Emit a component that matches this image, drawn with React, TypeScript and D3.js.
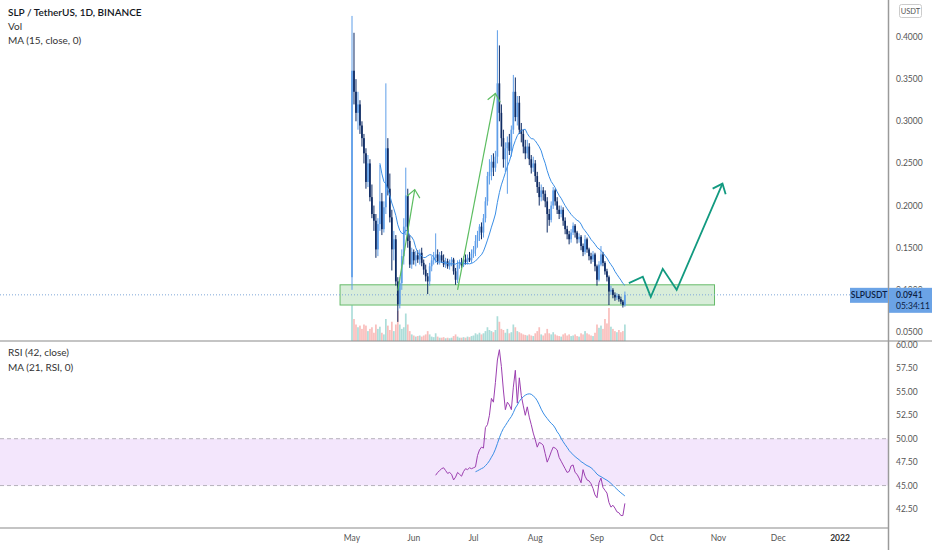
import * as d3 from "d3"

// daily candles, first bar = 2021-05-01
const firstDay = Date.UTC(2021, 4, 1)
const DAY = 86400000

const opens = [
  0.115, 0.36, 0.335, 0.31, 0.32, 0.295, 0.28, 0.262, 0.228, 0.25, 0.21, 0.19, 0.182, 0.148, 0.178, 0.205, 0.172, 0.198, 0.268, 0.22,
  0.186, 0.148, 0.16, 0.11, 0.083, 0.108, 0.14, 0.175, 0.212, 0.158, 0.13, 0.145, 0.135, 0.141, 0.136, 0.144, 0.132, 0.124, 0.116, 0.11,
  0.128, 0.135, 0.138, 0.142, 0.134, 0.141, 0.135, 0.13, 0.134, 0.128, 0.133, 0.136, 0.122, 0.112, 0.13, 0.132, 0.129, 0.136, 0.133, 0.138,
  0.135, 0.143, 0.148, 0.158, 0.165, 0.175, 0.168, 0.185, 0.205, 0.235, 0.24, 0.252, 0.245, 0.258, 0.345, 0.31, 0.28, 0.255, 0.268, 0.275,
  0.265, 0.29, 0.335, 0.305, 0.322, 0.29, 0.285, 0.27, 0.262, 0.27, 0.255, 0.245, 0.25, 0.235, 0.222, 0.21, 0.218, 0.214, 0.205, 0.19,
  0.183, 0.2, 0.218, 0.205, 0.195, 0.19, 0.195, 0.182, 0.172, 0.166, 0.16, 0.168, 0.176, 0.168, 0.16, 0.163, 0.152, 0.145, 0.16, 0.148,
  0.14, 0.136, 0.142, 0.128, 0.112, 0.13, 0.142, 0.132, 0.122, 0.115, 0.098, 0.1, 0.094, 0.091, 0.093, 0.089, 0.086, 0.082,
]
const highs = [
  0.425, 0.405, 0.35, 0.335, 0.325, 0.3, 0.285, 0.268, 0.26, 0.255, 0.225, 0.2, 0.19, 0.185, 0.248, 0.215, 0.205, 0.345, 0.28, 0.238,
  0.195, 0.17, 0.165, 0.115, 0.115, 0.148, 0.185, 0.245, 0.22, 0.165, 0.15, 0.148, 0.146, 0.147, 0.148, 0.15, 0.136, 0.13, 0.12, 0.132,
  0.14, 0.145, 0.167, 0.148, 0.145, 0.146, 0.142, 0.138, 0.137, 0.136, 0.139, 0.138, 0.126, 0.135, 0.136, 0.138, 0.14, 0.142, 0.142, 0.145,
  0.148, 0.152, 0.165, 0.17, 0.178, 0.18, 0.19, 0.21, 0.24, 0.255, 0.26, 0.262, 0.265, 0.408, 0.39, 0.32, 0.29, 0.275, 0.282, 0.285,
  0.295, 0.355, 0.352, 0.33, 0.33, 0.298, 0.29, 0.278, 0.278, 0.274, 0.26, 0.258, 0.254, 0.24, 0.228, 0.225, 0.222, 0.218, 0.21, 0.196,
  0.205, 0.222, 0.22, 0.21, 0.2, 0.2, 0.198, 0.186, 0.176, 0.17, 0.172, 0.18, 0.178, 0.17, 0.167, 0.165, 0.155, 0.165, 0.162, 0.15,
  0.144, 0.146, 0.144, 0.13, 0.134, 0.152, 0.145, 0.134, 0.125, 0.117, 0.105, 0.102, 0.097, 0.096, 0.095, 0.092, 0.088, 0.098,
]
const lows = [
  0.1, 0.32, 0.3, 0.29, 0.285, 0.27, 0.25, 0.22, 0.222, 0.205, 0.185, 0.17, 0.138, 0.14, 0.17, 0.165, 0.168, 0.19, 0.212, 0.18,
  0.123, 0.135, 0.105, 0.062, 0.078, 0.1, 0.13, 0.165, 0.15, 0.126, 0.125, 0.13, 0.128, 0.132, 0.13, 0.128, 0.118, 0.11, 0.095, 0.105,
  0.122, 0.13, 0.132, 0.13, 0.13, 0.132, 0.127, 0.126, 0.125, 0.124, 0.128, 0.118, 0.106, 0.108, 0.125, 0.126, 0.127, 0.13, 0.13, 0.133,
  0.132, 0.138, 0.14, 0.15, 0.158, 0.16, 0.162, 0.18, 0.2, 0.225, 0.23, 0.235, 0.24, 0.25, 0.3, 0.27, 0.245, 0.24, 0.214, 0.26,
  0.258, 0.285, 0.3, 0.295, 0.285, 0.275, 0.262, 0.255, 0.256, 0.248, 0.238, 0.24, 0.228, 0.215, 0.2, 0.205, 0.206, 0.198, 0.168, 0.176,
  0.18, 0.196, 0.2, 0.19, 0.184, 0.186, 0.176, 0.166, 0.16, 0.154, 0.156, 0.165, 0.162, 0.155, 0.156, 0.147, 0.14, 0.142, 0.144, 0.135,
  0.131, 0.133, 0.122, 0.105, 0.11, 0.128, 0.128, 0.118, 0.11, 0.082, 0.094, 0.09, 0.087, 0.088, 0.086, 0.083, 0.079, 0.08,
]
const closes = [
  0.36, 0.335, 0.31, 0.32, 0.295, 0.28, 0.262, 0.228, 0.25, 0.21, 0.19, 0.182, 0.148, 0.178, 0.205, 0.172, 0.198, 0.268, 0.22, 0.186,
  0.148, 0.16, 0.11, 0.083, 0.108, 0.14, 0.175, 0.212, 0.158, 0.13, 0.145, 0.135, 0.141, 0.136, 0.144, 0.132, 0.124, 0.116, 0.11, 0.128,
  0.135, 0.138, 0.142, 0.134, 0.141, 0.135, 0.13, 0.134, 0.128, 0.133, 0.136, 0.122, 0.112, 0.13, 0.132, 0.129, 0.136, 0.133, 0.138, 0.135,
  0.143, 0.148, 0.158, 0.165, 0.175, 0.168, 0.185, 0.205, 0.235, 0.24, 0.252, 0.245, 0.258, 0.345, 0.31, 0.28, 0.255, 0.268, 0.275, 0.265,
  0.29, 0.335, 0.305, 0.322, 0.29, 0.285, 0.27, 0.262, 0.27, 0.255, 0.245, 0.25, 0.235, 0.222, 0.21, 0.218, 0.214, 0.205, 0.19, 0.183,
  0.2, 0.218, 0.205, 0.195, 0.19, 0.195, 0.182, 0.172, 0.166, 0.16, 0.168, 0.176, 0.168, 0.16, 0.163, 0.152, 0.145, 0.16, 0.148, 0.14,
  0.136, 0.142, 0.128, 0.112, 0.13, 0.142, 0.132, 0.122, 0.115, 0.098, 0.1, 0.094, 0.091, 0.093, 0.089, 0.086, 0.082, 0.0941,
]
const volumes = [
  65, 40, 30, 25, 28, 22, 30, 28, 18, 22, 25, 15, 30, 22, 26, 15, 12, 40, 28, 20,
  35, 18, 30, 55, 30, 22, 25, 50, 30, 18, 12, 10, 8, 9, 10, 8, 10, 12, 18, 12,
  8, 7, 14, 8, 6, 6, 7, 5, 6, 5, 6, 9, 12, 8, 6, 6, 7, 6, 8, 7,
  9, 10, 14, 12, 15, 12, 14, 18, 25, 20, 18, 16, 20, 45, 35, 22, 20, 15, 22, 14,
  16, 30, 25, 18, 16, 14, 12, 11, 10, 12, 10, 9, 14, 18, 25, 12, 10, 14, 22, 14,
  12, 16, 12, 10, 9, 8, 12, 14, 10, 12, 9, 10, 12, 9, 8, 14, 12, 18, 14, 12,
  10, 9, 15, 30, 24, 28, 22, 40, 32, 60, 26, 22, 18, 16, 20, 16, 18, 30,
]

// RSI(42) starts on bar 42
const rsiStart = 42
const rsiValues = [
  46.1, 46.4, 46.6, 46.8, 46.9, 46.6, 46.3, 46.4, 46.2, 45.6, 45.9, 46.4, 46.2, 46.0, 46.5, 46.8, 46.7, 46.9, 46.8, 46.9,
  47.0, 48.2, 48.8, 49.1, 49.0, 51.2, 51.5, 52.5, 54.3, 53.9, 56.0, 58.4, 59.5, 57.7, 55.2, 53.1, 53.9, 53.6, 53.1, 55.5,
  57.3, 53.8, 56.5, 54.6, 53.5, 52.5, 53.4, 52.3, 51.5, 50.6, 49.9, 49.1, 49.6, 49.5, 49.3, 48.4, 47.5, 48.0, 48.6, 49.1,
  49.0, 48.8, 48.0, 47.6, 47.2, 46.8, 46.4, 46.5, 47.1, 47.2, 46.4, 46.2, 45.8, 45.3, 46.7, 46.0, 45.6, 45.5, 45.2, 44.7,
  44.0, 43.7, 45.3, 45.8, 44.8, 44.5, 44.2, 43.2, 42.7, 42.9, 42.6, 42.2, 42.1, 41.8, 41.8, 43.1,
]

const priceTicks = [0.05, 0.1, 0.15, 0.2, 0.25, 0.3, 0.35, 0.4]
const rsiTicks = [42.5, 45, 47.5, 50, 52.5, 55, 57.5, 60]
const monthLabels = ["May", "Jun", "Jul", "Aug", "Sep", "Oct", "Nov", "Dec", "2022"]
const monthStarts = [
  "2021-05-01", "2021-06-01", "2021-07-01", "2021-08-01", "2021-09-01",
  "2021-10-01", "2021-11-01", "2021-12-01", "2022-01-01",
]

// drawings on the chart (date, price)
const zone = { from: "2021-04-25", to: "2021-10-30", low: 0.082, high: 0.106 }
const arrowOne: [string, number][] = [["2021-05-24", 0.099], ["2021-06-01T12:00:00", 0.219]]
const arrowTwo: [string, number][] = [["2021-06-23", 0.1], ["2021-07-12", 0.333]]
const projection: [string, number][] = [
  ["2021-09-17", 0.108], ["2021-09-24", 0.1155], ["2021-09-28", 0.0917],
  ["2021-10-04", 0.125], ["2021-10-11", 0.1], ["2021-11-03", 0.226],
]

const UP = "#5f9ee8"
const DOWN = "#0d2a63"
const FONT = "Lato, 'Open Sans', sans-serif"

const utc = (s: string) => new Date(s.length === 10 ? s + "T00:00:00Z" : s + "Z")

function movingAverage(values: number[], period: number) {
  const out: { i: number; v: number }[] = []
  for (let i = period - 1; i < values.length; i++) {
    out.push({ i, v: d3.mean(values.slice(i - period + 1, i + 1)) as number })
  }
  return out
}

export default function App() {
  const W = 932
  const H = 550
  const axisX = 888
  const mainBottom = 341
  const rsiBottom = 528

  const x = d3.scaleUtc().domain([utc("2021-05-01"), utc("2022-01-01")]).range([352, 840])
  const yPrice = d3.scaleLinear().domain([0.05, 0.4]).range([332, 37])
  const yVol = d3.scaleLinear().domain([0, 100]).range([mainBottom, mainBottom - 55])
  const yRsi = d3.scaleLinear().domain([42.5, 60]).range([509, 345])

  const barX = (i: number) => x(new Date(firstDay + i * DAY))
  const bw = 1.7

  const ma15 = movingAverage(closes, 15)
  const rsiMa = movingAverage(rsiValues, 21)

  const maLine = d3.line<{ i: number; v: number }>().x((d) => barX(d.i)).y((d) => yPrice(d.v))
  const rsiLine = d3.line<number>().x((_, k) => barX(k + rsiStart)).y((d) => yRsi(d))
  const rsiMaLine = d3.line<{ i: number; v: number }>().x((d) => barX(d.i + rsiStart)).y((d) => yRsi(d.v))

  const pt = (p: [string, number]) => [x(utc(p[0])), yPrice(p[1])] as [number, number]
  const arrowPath = (pts: [string, number][], len: number) => {
    const s = pts.map(pt)
    const a = s[s.length - 2]
    const b = s[s.length - 1]
    const th = Math.atan2(b[1] - a[1], b[0] - a[0]) + Math.PI
    const spread = 0.7
    const l = [b[0] + len * Math.cos(th + spread), b[1] + len * Math.sin(th + spread)]
    const r = [b[0] + len * Math.cos(th - spread), b[1] + len * Math.sin(th - spread)]
    return {
      shaft: d3.line()(s) as string,
      head: `M${l[0]},${l[1]}L${b[0]},${b[1]}L${r[0]},${r[1]}`,
    }
  }
  const a1 = arrowPath(arrowOne, 10)
  const a2 = arrowPath(arrowTwo, 10)
  const a3 = arrowPath(projection, 11)

  const last = closes[closes.length - 1]
  const lastY = yPrice(last)

  return (
    <svg
      width={W}
      height={H}
      style={{ position: "fixed", left: 0, top: 0, background: "#fff" }}
      fontFamily={FONT}
    >
      <defs>
        <clipPath id="mainClip">
          <rect x={0} y={0} width={axisX} height={mainBottom} />
        </clipPath>
        <clipPath id="rsiClip">
          <rect x={0} y={mainBottom} width={axisX} height={rsiBottom - mainBottom} />
        </clipPath>
        <clipPath id="aboveLabel">
          <rect x={axisX} y={0} width={W - axisX} height={lastY - 7} />
        </clipPath>
      </defs>

      {/* main pane */}
      <g clipPath="url(#mainClip)">
        {volumes.map((v, i) => (
          <rect
            key={"v" + i}
            x={barX(i) - bw / 2}
            y={yVol(v)}
            width={bw}
            height={mainBottom - yVol(v)}
            fill={closes[i] >= opens[i] ? "#26a69a" : "#ef5350"}
            opacity={0.38}
          />
        ))}

        <rect
          x={x(utc(zone.from))}
          y={yPrice(zone.high)}
          width={x(utc(zone.to)) - x(utc(zone.from))}
          height={yPrice(zone.low) - yPrice(zone.high)}
          fill="rgba(76,175,80,0.22)"
          stroke="#66bb6a"
          strokeWidth={1}
        />

        <line x1={0} x2={850} y1={lastY} y2={lastY} stroke="#7fa8d8" strokeDasharray="1 2" strokeWidth={1} />

        {closes.map((c, i) => {
          const o = opens[i]
          const col = c >= o ? UP : DOWN
          const top = yPrice(Math.max(o, c))
          const bot = yPrice(Math.min(o, c))
          return (
            <g key={"c" + i}>
              <line x1={barX(i)} x2={barX(i)} y1={yPrice(highs[i])} y2={yPrice(lows[i])} stroke={col} strokeWidth={1} />
              <rect x={barX(i) - bw / 2} y={top} width={bw} height={Math.max(0.8, bot - top)} fill={col} />
            </g>
          )
        })}

        <path d={maLine(ma15) as string} fill="none" stroke="#3a8ee6" strokeWidth={1} />

        <path d={a1.shaft} fill="none" stroke="#5cbd60" strokeWidth={1.2} />
        <path d={a1.head} fill="none" stroke="#5cbd60" strokeWidth={1.2} />
        <path d={a2.shaft} fill="none" stroke="#5cbd60" strokeWidth={1.2} />
        <path d={a2.head} fill="none" stroke="#5cbd60" strokeWidth={1.2} />
        <path d={a3.shaft} fill="none" stroke="#129a80" strokeWidth={1.8} strokeLinejoin="miter" />
        <path d={a3.head} fill="none" stroke="#129a80" strokeWidth={1.8} />
      </g>

      {/* legend */}
      <text x={8} y={16} fontSize={10} fontWeight={600} fill="#131722">SLP / TetherUS, 1D, BINANCE</text>
      <text x={8} y={30} fontSize={10} fill="#333">Vol</text>
      <text x={8} y={44} fontSize={10} fill="#333">MA (15, close, 0)</text>

      {/* RSI pane */}
      <g clipPath="url(#rsiClip)">
        <rect x={0} y={yRsi(50)} width={axisX} height={yRsi(45) - yRsi(50)} fill="#f3e6fc" />
        <line x1={0} x2={axisX} y1={yRsi(50)} y2={yRsi(50)} stroke="#b5b0bb" strokeDasharray="4 3" />
        <line x1={0} x2={axisX} y1={yRsi(45)} y2={yRsi(45)} stroke="#b5b0bb" strokeDasharray="4 3" />
        <path d={rsiLine(rsiValues) as string} fill="none" stroke="#9c3fb0" strokeWidth={1} />
        <path d={rsiMaLine(rsiMa) as string} fill="none" stroke="#3a8ee6" strokeWidth={1} />
      </g>
      <text x={8} y={356} fontSize={10} fill="#333">RSI (42, close)</text>
      <text x={8} y={371} fontSize={10} fill="#333">MA (21, RSI, 0)</text>

      {/* separators */}
      <line x1={0} x2={W} y1={mainBottom} y2={mainBottom} stroke="#8a8a8a" strokeWidth={1.2} />
      <line x1={0} x2={axisX} y1={rsiBottom} y2={rsiBottom} stroke="#8a8a8a" strokeWidth={1.2} />
      <line x1={axisX + 0.5} x2={axisX + 0.5} y1={0} y2={H} stroke="#9a9a9a" strokeWidth={1.5} />

      {/* price axis; the label that sits under the last-price box only peeks out above it */}
      {priceTicks.map((t) => {
        const hidden = Math.abs(yPrice(t) - lastY) < 12
        return (
          <text
            key={"p" + t}
            x={896}
            y={yPrice(t)}
            dy="0.35em"
            fontSize={8.5}
            fill="#555"
            clipPath={hidden ? "url(#aboveLabel)" : undefined}
          >
            {d3.format(".4f")(t)}
          </text>
        )
      })}
      <rect x={899.5} y={4.5} width={22} height={13} rx={2} fill="#fff" stroke="#ccc" />
      <text x={910.5} y={11} dy="0.35em" textAnchor="middle" fontSize={7.5} fill="#555">USDT</text>

      {/* rsi axis */}
      {rsiTicks.map((t) => (
        <text key={"r" + t} x={896} y={yRsi(t)} dy="0.35em" fontSize={8.5} fill="#555">
          {d3.format(".2f")(t)}
        </text>
      ))}

      {/* time axis */}
      {monthStarts.map((m, k) => (
        <text
          key={m}
          x={x(utc(m))}
          y={538}
          dy="0.35em"
          textAnchor="middle"
          fontSize={8.5}
          fontWeight={k === monthLabels.length - 1 ? 700 : 400}
          fill={k === monthLabels.length - 1 ? "#333" : "#555"}
        >
          {monthLabels[k]}
        </text>
      ))}

      {/* last price labels */}
      <rect x={850} y={lastY - 7} width={38} height={15} fill="#6ba3e6" />
      <text x={869} y={lastY + 0.5} dy="0.35em" textAnchor="middle" fontSize={8.5} fontWeight={600} fill="#0b1e44">
        SLPUSDT
      </text>
      <rect x={889} y={lastY - 7} width={43} height={25} fill="#6ba3e6" />
      <text x={896} y={lastY + 0.5} dy="0.35em" fontSize={8.5} fontWeight={600} fill="#0b1e44">
        {d3.format(".4f")(last)}
      </text>
      <text x={896} y={lastY + 11.5} dy="0.35em" fontSize={8.5} fill="#0b1e44">
        05:34:11
      </text>
    </svg>
  )
}
